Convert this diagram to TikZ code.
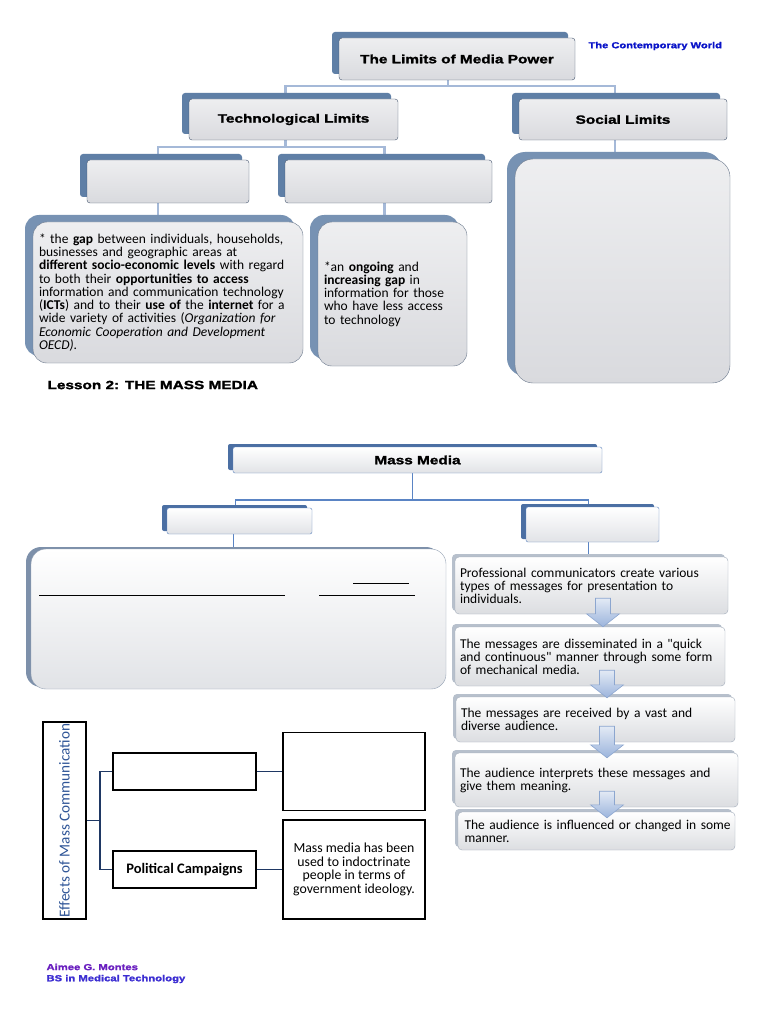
\documentclass[tikz,border=0pt]{standalone}
\usepackage{fontspec}
\setmainfont{Carlito}[Ligatures=TeXOff]
\newfontfamily\headfont[FakeStretch=1.28,FakeBold=1.6]{Liberation Sans Bold}
\usetikzlibrary{shadows,backgrounds,calc}

\definecolor{tface}{HTML}{D9DADE}
\definecolor{tline}{HTML}{44556E}
\definecolor{tshadow}{HTML}{5F7FA6}
\definecolor{tlinkc}{HTML}{A5B9D8}
\definecolor{mface}{HTML}{ECEEF2}
\definecolor{mline}{HTML}{5E84BD}
\definecolor{mshadow}{HTML}{4B6FA3}
\definecolor{mlinkc}{HTML}{5A84C4}
\definecolor{dline}{HTML}{95A2B4}
\definecolor{dshadow}{HTML}{7D90AA}
\definecolor{fline}{HTML}{A3ADBB}
\definecolor{fshadow}{HTML}{B7C0CC}
\definecolor{arrtop}{HTML}{E3EAF5}
\definecolor{arrbot}{HTML}{9BB4DC}
\definecolor{arrline}{HTML}{8CA6CF}
\definecolor{effblue}{HTML}{2F5597}
\definecolor{navy}{HTML}{1F3864}
\definecolor{cwblue}{HTML}{0A14C8}
\definecolor{footpurple}{HTML}{6A1FC0}
\definecolor{footblue}{HTML}{3C2ED2}

\newcommand{\flowarrow}[4]{%
  \path ([xshift=#3pt]#1.south) ++(0,-16) coordinate (fa) (fa |- #2.north) ++(0,#4) coordinate (fb);
  \draw[farrow] ($(fa)+(-7.5,0)$) -- ($(fb)+(-7.5,-13)$) -- ($(fb)+(-16.5,-13)$) -- (fb)
    -- ($(fb)+(16.5,-13)$) -- ($(fb)+(7.5,-13)$) -- ($(fa)+(7.5,0)$) -- cycle;
}

\begin{document}
\begin{tikzpicture}[x=1pt,y=-1pt,
    tbox/.style={draw=tline, rounded corners=3pt, top color=tface!45!white, bottom color=tface,
      drop shadow={shadow xshift=-7pt, shadow yshift=6pt, fill=tshadow, opacity=1},
      font=\headfont\fontsize{12}{14}\selectfont, inner sep=0pt},
    gbox/.style={draw=tline!80, rounded corners=14pt, top color=tface!45!white, bottom color=tface,
      drop shadow={shadow xshift=-8pt, shadow yshift=7pt, fill=tshadow!85, opacity=1},
      font=\fontsize{13.5}{13.3}\selectfont, align=left, inner xsep=6pt, inner ysep=0pt},
    mbox/.style={draw=mline, rounded corners=2pt, top color=white, bottom color=mface!90!gray,
      drop shadow={shadow xshift=-5pt, shadow yshift=3pt, fill=mshadow, opacity=1},
      font=\headfont\fontsize{12}{14}\selectfont, inner sep=0pt},
    fbox/.style={draw=fline, rounded corners=4pt, top color=white, bottom color=mface!85!gray,
      drop shadow={shadow xshift=-3pt, shadow yshift=3pt, fill=fshadow, opacity=1},
      font=\fontsize{13.5}{13}\selectfont, align=left, inner xsep=5pt, inner ysep=0pt},
    ebox/.style={draw=black, line width=1.6pt, fill=white, inner sep=0pt},
    tlink/.style={draw=tlinkc, line width=2.5pt},
    mlink/.style={draw=mlinkc, line width=1.8pt},
    elink/.style={draw=navy, line width=1.8pt},
    farrow/.style={draw=arrline, line width=0.6pt, top color=arrtop, bottom color=arrbot}]

    \useasboundingbox (0,0) rectangle (768,1024);

    \node[tbox, minimum width=236pt, minimum height=42pt] (lim) at (457,59) {The Limits of Media Power};
    \node[anchor=west, text=cwblue, font=\headfont\fontsize{8.7}{10}\selectfont] (cw) at (585,46) {The Contemporary World};

    \node[tbox, minimum width=209pt, minimum height=41pt] (tech) at (293.5,119.5) {Technological Limits};
    \node[tbox, minimum width=208pt, minimum height=41pt] (soc) at (623,119.5) {Social Limits};

    \node[tbox, minimum width=162pt, minimum height=43pt] (ta) at (168,181.5) {};
    \node[tbox, minimum width=207pt, minimum height=43pt] (tb) at (388.5,181.5) {};
    \node[gbox, rounded corners=18pt, minimum width=215pt, minimum height=224pt] (sbig) at (622.5,271) {};

    \node[gbox, text width=258pt, minimum height=141pt] (gapa) at (168,292.5) {%
      * the \textbf{gap} between individuals, households,\\
      businesses and geographic areas at\\
      \textbf{different socio-economic levels} with regard\\
      to both their \textbf{opportunities to access}\\
      information and communication technology\\
      (\textbf{ICTs}) and to their \textbf{use of} the \textbf{internet} for a\\
      wide variety of activities (\textit{Organization for}\\
      \textit{Economic Cooperation and Development}\\
      \textit{OECD)}.};
    \node[gbox, text width=137pt, minimum height=144pt] (gapb) at (392.5,294) {%
      *an \textbf{ongoing} and\\
      \textbf{increasing gap} in\\
      information for those\\
      who have less access\\
      to technology};

    \node[anchor=west, font=\headfont\fontsize{12}{14}\selectfont] (lesson) at (44,385) {Lesson 2: THE MASS MEDIA};

    \node[mbox, minimum width=369pt, minimum height=26pt] (mm) at (417.5,460) {Mass Media};
    \node[mbox, minimum width=145pt, minimum height=26pt] (mma) at (239.5,521) {};
    \node[mbox, minimum width=133pt, minimum height=35pt] (mmb) at (592.5,524.5) {};

    \node[draw=dline, rounded corners=15pt, top color=white, bottom color=mface!90!gray,
      drop shadow={shadow xshift=-5pt, shadow yshift=2pt, fill=dshadow, opacity=1},
      minimum width=415pt, minimum height=140pt] (defn) at (238.5,619) {};
    \draw[line width=1pt] (353,583) -- (409,583);
    \draw[line width=1pt] (39,595) -- (285,595);
    \draw[line width=1pt] (319,595) -- (415,595);

    \node[fbox, text width=263pt, minimum height=57pt] (f1) at (591.5,585.5) {%
      Professional communicators create various\\
      types of messages for presentation to\\
      individuals.};
    \node[fbox, text width=260pt, minimum height=59pt] (f2) at (590,656.5) {%
      The messages are disseminated in a "quick\\
      and continuous" manner through some form\\
      of mechanical media.};
    \node[fbox, text width=269pt, minimum height=45pt] (f3) at (595.5,719.5) {%
      The messages are received by a vast and\\
      diverse audience.};
    \node[fbox, text width=273pt, minimum height=54pt] (f4) at (596.5,780) {%
      The audience interprets these messages and\\
      give them meaning.};
    \node[fbox, text width=272pt, inner xsep=2.5pt, minimum height=38pt] (f5) at (596.5,831) {%
      \hspace*{4pt}The audience is influenced or changed in some\\
      \hspace*{4pt}manner.};

    \flowarrow{f1}{f2}{11.5}{0}
    \flowarrow{f2}{f3}{17}{1}
    \flowarrow{f3}{f4}{11.5}{5}
    \flowarrow{f4}{f5}{10.5}{6}

    \node[ebox, rotate=90, minimum width=197pt, minimum height=43pt, text=effblue,
      font=\fontsize{15.2}{17}\selectfont] (eff) at (64.5,820.5) {Effects of Mass Communication};
    \node[ebox, minimum width=143pt, minimum height=37pt] (ea) at (184.5,771.5) {};
    \node[ebox, minimum width=143pt, minimum height=37pt, font=\bfseries\fontsize{14.5}{16}\selectfont] (eb) at (184.5,869.5) {Political Campaigns};
    \node[ebox, minimum width=142pt, minimum height=78pt] (ec) at (354,771.5) {};
    \node[ebox, minimum width=142pt, minimum height=99pt, align=center, font=\fontsize{13.8}{13.5}\selectfont] (ed) at (354,869.5) {%
      Mass media has been\\ used to indoctrinate\\ people in terms of\\ government ideology.};

    \draw[elink] (eff.south) -- ++(13,0) coordinate (ej);
    \draw[elink] (ea.west) -| (ej) |- (eb.west);
    \draw[elink] (ea.east) -- (ec.west);
    \draw[elink] (eb.east) -- (ed.west);

    \node[anchor=west, text=footpurple, font=\headfont\fontsize{8.8}{10}\selectfont] (name) at (43,967) {Aimee G. Montes};
    \node[anchor=west, text=footblue, font=\headfont\fontsize{8.8}{10}\selectfont] (course) at (43,979) {BS in Medical Technology};

    \begin{scope}[on background layer]
        \fill[white] (0,0) rectangle (768,1024);
        \draw[tlink] ([xshift=-9pt]lim.south) -- ++(0,6) coordinate (lj) -| ([xshift=-8pt]tech.north);
        \draw[tlink] (lj) -| ([xshift=-8pt]soc.north);
        \draw[tlink] ([xshift=-8pt]tech.south) -- ++(0,7) coordinate (tj) -| ([xshift=-10pt]ta.north);
        \draw[tlink] (tj) -| ([xshift=-4pt]tb.north);
        \draw[tlink] ([xshift=-10pt]ta.south) coordinate (p1) -- (p1 |- gapa.north);
        \draw[tlink] ([xshift=-4pt]tb.south) coordinate (p2) -- (p2 |- gapb.north);
        \draw[tlink] ([xshift=-8pt]soc.south) coordinate (p3) -- (p3 |- sbig.north);
        \draw[mlink] ([xshift=-5pt]mm.south) -- ++(0,27) coordinate (mj) -| ([xshift=-4pt]mma.north);
        \draw[mlink] (mj) -| ([xshift=-4pt]mmb.north);
        \draw[mlink] ([xshift=-6pt]mma.south) coordinate (p4) -- (p4 |- defn.north);
        \draw[mlink] ([xshift=-4pt]mmb.south) coordinate (p5) -- (p5 |- f1.north);
    \end{scope}
\end{tikzpicture}
\end{document}
